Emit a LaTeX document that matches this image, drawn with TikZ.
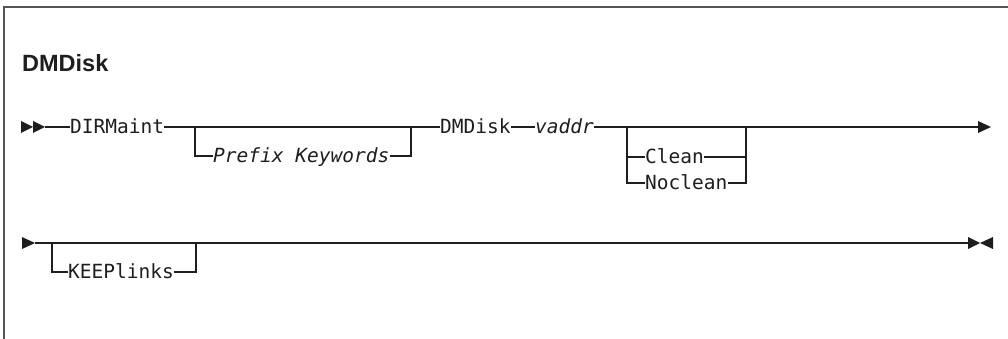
\documentclass[tikz,border=0pt]{standalone}
\usepackage{fontspec}
\setmainfont{Liberation Sans}
\newfontfamily\synmono{DejaVu Sans Mono}
\definecolor{ink}{HTML}{1E1E1E}
\definecolor{frame}{HTML}{555555}
\begin{document}
\begin{tikzpicture}[x=1pt,y=-1pt,
  rail/.style={draw=ink,line width=1.1pt},
  kw/.style={inner sep=0pt,anchor=base west,text=ink,font=\synmono\fontsize{19.5}{20}\selectfont},
  var/.style={kw,font=\synmono\itshape\fontsize{19.5}{20}\selectfont},
  tipr/.style={fill=ink},
  title/.style={inner sep=0pt,anchor=base west,text=ink,font=\bfseries\fontsize{23.5}{26}\selectfont}]
\useasboundingbox (0,0) rectangle (1008,339);
% frame
\draw[draw=frame,line width=1.8pt] (4,339) -- (4,7) -- (1008,7);
% title
\node[title] (ttl) at (22,72) {DMDisk};
% ---- line 1 (y=127) ----
\coordinate (s1) at (45,127);
\fill[tipr] (21,121) -- (33,127) -- (21,133) -- cycle;
\fill[tipr] (33,121) -- (45,127) -- (33,133) -- cycle;
\node[kw] (dir) at (70,133.5) {DIRMaint};
\node[var] (pre) at (213,162.5) {Prefix Keywords};
\node[kw] (dmd) at (440,133.5) {DMDisk};
\node[var] (vad) at (535,133.5) {vaddr};
\node[kw] (cln) at (645,163.5) {Clean};
\node[kw] (ncl) at (645,189.5) {Noclean};
\coordinate (e1) at (978,127);
\fill[tipr] (978,121) -- (991,127) -- (978,133) -- cycle;
\draw[rail] (s1) -- (dir.west |- s1);
\draw[rail] (dir.east |- s1) -- (dmd.west |- s1);
\draw[rail] (195,127) -- (195,156) -- (pre.west |- 0,156);
\draw[rail] (pre.east |- 0,156) -- (411,156) -- (411,127);
\draw[rail] (dmd.east |- s1) -- (vad.west |- s1);
\draw[rail] (vad.east |- s1) -- (e1);
\draw[rail] (627,127) -- (627,183) -- (ncl.west |- 0,183);
\draw[rail] (627,157) -- (cln.west |- 0,157);
\draw[rail] (cln.east |- 0,157) -- (746,157);
\draw[rail] (ncl.east |- 0,183) -- (746,183) -- (746,127);
% ---- line 2 (y=243) ----
\fill[tipr] (22,237) -- (35,243) -- (22,249) -- cycle;
\coordinate (s2) at (35,243);
\coordinate (e2) at (968,243);
\fill[tipr] (968,237) -- (980,243) -- (968,249) -- cycle;
\fill[tipr] (993,237) -- (980,243) -- (993,249) -- cycle;
\node[kw] (kpl) at (68,278.5) {KEEPlinks};
\draw[rail] (s2) -- (e2);
\draw[draw=ink,line width=1.7pt] (200,243) -- (225,243);
\draw[rail] (52,243) -- (52,272) -- (kpl.west |- 0,272);
\draw[rail] (kpl.east |- 0,272) -- (196,272) -- (196,243);
\end{tikzpicture}
\end{document}
